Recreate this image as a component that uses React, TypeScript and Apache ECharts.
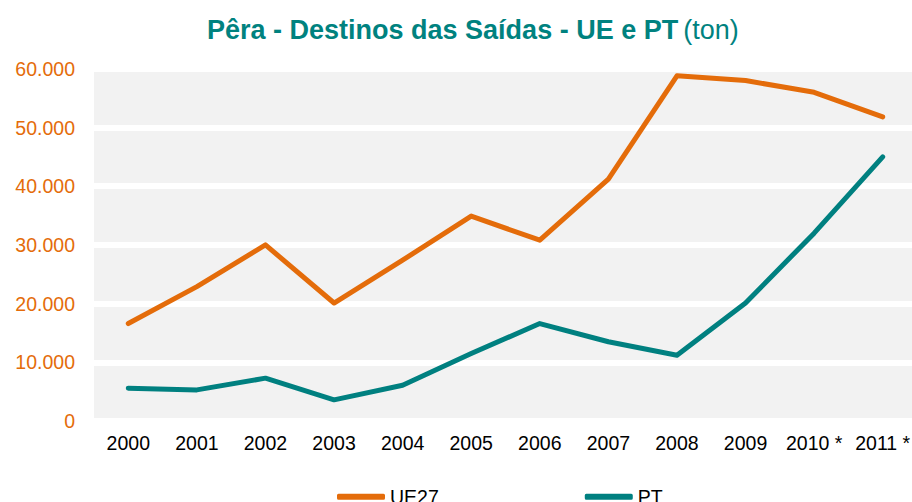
import React, { useEffect, useRef } from "react";
import * as echarts from "echarts";

const categories = ["2000", "2001", "2002", "2003", "2004", "2005", "2006", "2007", "2008", "2009", "2010 *", "2011 *"];
const ue27 = [16600, 22900, 30000, 20100, 27400, 34900, 30800, 41200, 58800, 58000, 56000, 51800];
const pt = [5600, 5300, 7300, 3600, 6100, 11500, 16600, 13500, 11200, 20100, 32000, 45000];
const seriesNames = ["UE27", "PT"];
const titleMain = "Pêra - Destinos das Saídas - UE e PT";
const titleUnit = "(ton)";

const ORANGE = "#E46C0A";
const TEAL = "#008080";
const FONT = "'Liberation Sans', Arial, sans-serif";

function fmt(v: number): string {
  if (v === 0) return "0";
  const s = String(Math.round(v));
  return s.replace(/\B(?=(\d{3})+(?!\d))/g, ".");
}

export default function App() {
  const ref = useRef<HTMLDivElement>(null);
  useEffect(() => {
    if (!ref.current) return;
    const chart = echarts.init(ref.current, null, { renderer: "svg" });
    chart.setOption({
      animation: false,
      backgroundColor: "#ffffff",
      title: {
        text: `{b|${titleMain}} {n|${titleUnit}}`,
        left: 202,
        top: 11,
        textStyle: {
          rich: {
            b: { fontFamily: FONT, fontSize: 27, fontWeight: "bold", color: "#00827F" },
            n: { fontFamily: FONT, fontSize: 27, fontWeight: "normal", color: "#00827F" },
          },
        },
      },
      legend: {
        data: [
          { name: seriesNames[0], icon: "roundRect" },
          { name: seriesNames[1], icon: "roundRect" },
        ],
        left: 337,
        top: 485.7,
        padding: 0,
        itemWidth: 48,
        itemHeight: 6,
        itemGap: 146,
        textStyle: {
          fontFamily: FONT,
          fontSize: 19.5,
          lineHeight: 16,
          color: "#000000",
          padding: [0, 0, 6, 0],
        },
      },
      grid: {
        left: 94,
        top: 68.8,
        width: 823,
        height: 352.2,
        show: true,
        backgroundColor: "#F2F2F2",
        borderWidth: 0,
        containLabel: false,
        outerBoundsMode: "none",
      },
      xAxis: {
        type: "category",
        data: categories,
        boundaryGap: true,
        axisLine: { show: false },
        axisTick: { show: false },
        axisLabel: { fontFamily: FONT, fontSize: 19.5, color: "#000000", margin: 12, interval: 0 },
        splitLine: { show: false },
      },
      yAxis: {
        type: "value",
        min: 0,
        max: 60000,
        interval: 10000,
        axisLine: { show: false },
        axisTick: { show: false },
        axisLabel: {
          fontFamily: FONT,
          fontSize: 19.5,
          color: ORANGE,
          margin: 19,
          formatter: (v: number) => fmt(v),
        },
        splitLine: { show: true, lineStyle: { color: "#ffffff", width: 6 } },
      },
      series: [
        {
          name: seriesNames[0],
          type: "line",
          data: ue27,
          symbol: "none",
          color: ORANGE,
          lineStyle: { color: ORANGE, width: 5, cap: "round", join: "round" },
        },
        {
          name: seriesNames[1],
          type: "line",
          data: pt,
          symbol: "none",
          color: TEAL,
          lineStyle: { color: TEAL, width: 5, cap: "round", join: "round" },
        },
      ],
    });
    return () => chart.dispose();
  }, []);
  return (
    <div
      ref={ref}
      style={{ position: "absolute", left: 0, top: 0, width: 912, height: 502 }}
    />
  );
}
